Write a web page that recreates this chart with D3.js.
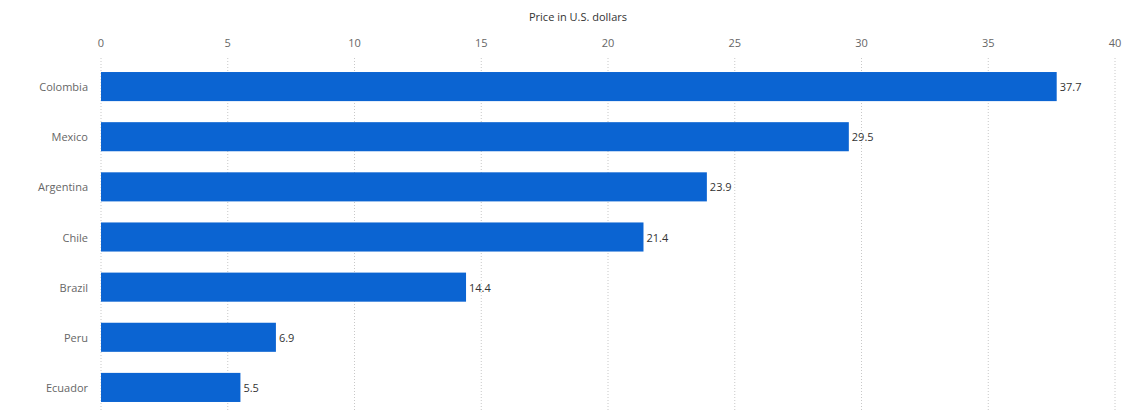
<!DOCTYPE html>
<html>
<head>
<meta charset="utf-8">
<script src="https://cdn.jsdelivr.net/npm/d3@7"></script>
<style>
  body { margin: 0; background: #fff; }
  text { font-family: "Open Sans", "Noto Sans", sans-serif; }
</style>
</head>
<body>
<div id="canvas"></div>
<script>
"use strict"

/* Data */
let countries = ["Colombia", "Mexico", "Argentina", "Chile", "Brazil", "Peru", "Ecuador"];
let prices = [37.7, 29.5, 23.9, 21.4, 14.4, 6.9, 5.5];
let xTicks = [0, 5, 10, 15, 20, 25, 30, 35, 40];

/* Drawing size */
let svgWidth = 1125;
let svgHeight = 415;
let leftMargin = 101;
let rightMargin = 10;
let topMargin = 62;
let bottomMargin = 3;

let svg = d3.select("#canvas")
    .append("svg")
    .attr("width", svgWidth)
    .attr("height", svgHeight);

let xScale = d3.scaleLinear()
    .domain([0, 40])
    .range([leftMargin, svgWidth - rightMargin]);

let yScale = d3.scaleBand()
    .domain(countries)
    .range([topMargin, svgHeight - bottomMargin])
    .paddingInner(0.42)
    .paddingOuter(0.2);

/* dotted vertical grid */
svg.selectAll(".grid")
    .data(xTicks)
    .join("line")
    .attr("class", "grid")
    .attr("x1", d => xScale(d))
    .attr("x2", d => xScale(d))
    .attr("y1", 58)
    .attr("y2", 412)
    .attr("stroke", "#c8c8c8")
    .attr("stroke-width", 1)
    .attr("stroke-dasharray", "1,2");

/* top axis labels */
svg.selectAll(".tick-label")
    .data(xTicks)
    .join("text")
    .attr("class", "tick-label")
    .attr("x", d => xScale(d))
    .attr("y", 47)
    .attr("text-anchor", "middle")
    .attr("font-size", 11)
    .attr("fill", "#666")
    .text(d => d);

/* axis title */
svg.append("text")
    .attr("x", 578)
    .attr("y", 21)
    .attr("text-anchor", "middle")
    .attr("font-size", 11)
    .attr("fill", "#333")
    .text("Price in U.S. dollars");

/* bars */
svg.selectAll(".bar")
    .data(prices)
    .join("rect")
    .attr("class", "bar")
    .attr("x", xScale(0))
    .attr("y", (d, i) => yScale(countries[i]))
    .attr("width", d => xScale(d) - xScale(0))
    .attr("height", yScale.bandwidth())
    .attr("fill", "#0b64d2");

/* value labels */
svg.selectAll(".value")
    .data(prices)
    .join("text")
    .attr("class", "value")
    .attr("x", d => xScale(d) + 3)
    .attr("y", (d, i) => yScale(countries[i]) + yScale.bandwidth() / 2)
    .attr("dominant-baseline", "central")
    .attr("font-size", 11)
    .attr("fill", "#333")
    .text(d => d);

/* category labels */
svg.selectAll(".cat")
    .data(countries)
    .join("text")
    .attr("class", "cat")
    .attr("x", leftMargin - 13)
    .attr("y", d => yScale(d) + yScale.bandwidth() / 2)
    .attr("dominant-baseline", "central")
    .attr("text-anchor", "end")
    .attr("font-size", 11)
    .attr("fill", "#666")
    .text(d => d);
</script>
</body>
</html>
